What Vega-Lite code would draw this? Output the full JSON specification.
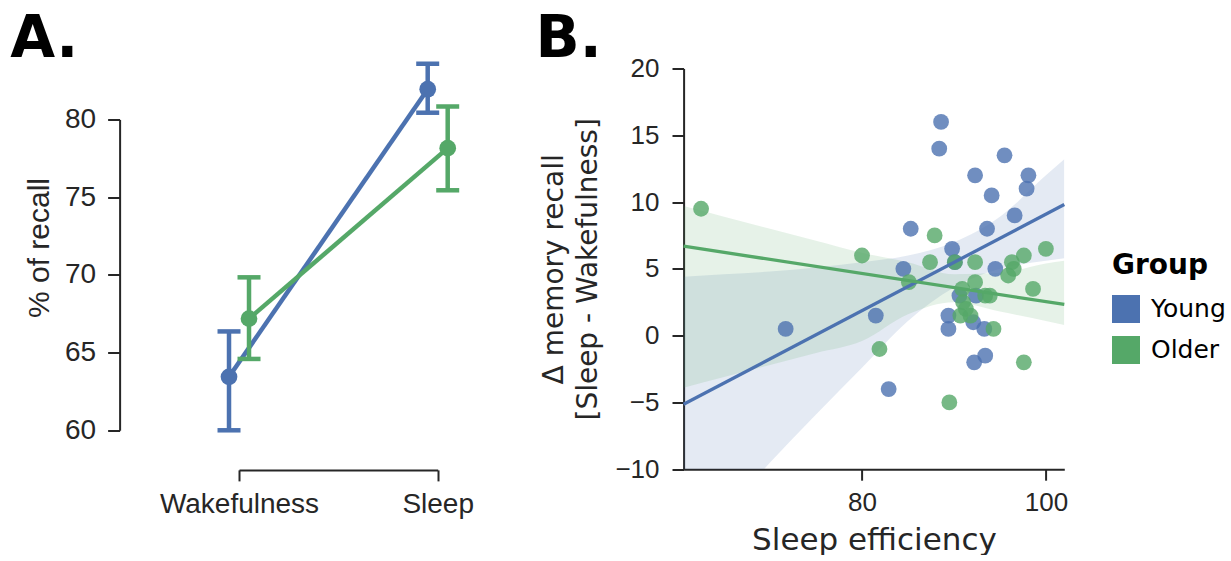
{
  "$schema": "https://vega.github.io/schema/vega-lite/v6.json",
  "padding": {"left": 10, "top": 10.5, "right": 0, "bottom": 0},
  "autosize": {"type": "pad"},
  "background": "white",
  "bounds": "flush",
  "spacing": 245.6,
  "config": {
    "view": {"stroke": null},
    "axis": {"grid": false, "domainColor": "#262626", "tickColor": "#262626", "labelColor": "#262626", "titleColor": "#262626", "domainWidth": 2, "tickWidth": 2, "labelFont": "Liberation Sans", "titleFontWeight": "normal"},
    "legend": {"titleFont": "DejaVu Sans", "titleFontSize": 28, "titleFontWeight": "bold", "titleColor": "black", "labelFont": "DejaVu Sans", "labelFontSize": 25, "labelColor": "black", "symbolType": "square", "symbolSize": 784, "symbolOpacity": 1, "symbolStrokeWidth": 0, "rowPadding": 13, "titlePadding": 14.5, "labelOffset": 11}
  },
  "datasets": {
    "recall": [
      {"condition": "Wakefulness", "group": "Young", "mean": 63.44, "lo": 60.0, "hi": 66.36},
      {"condition": "Sleep", "group": "Young", "mean": 81.94, "lo": 80.43, "hi": 83.58},
      {"condition": "Wakefulness", "group": "Older", "mean": 67.18, "lo": 64.59, "hi": 69.84},
      {"condition": "Sleep", "group": "Older", "mean": 78.15, "lo": 75.44, "hi": 80.83}
    ],
    "scatter": [
      {"group": "Young", "eff": 88.6, "delta": 16.0},
      {"group": "Young", "eff": 88.4, "delta": 14.0},
      {"group": "Young", "eff": 95.5, "delta": 13.5},
      {"group": "Young", "eff": 92.3, "delta": 12.0},
      {"group": "Young", "eff": 98.1, "delta": 12.0},
      {"group": "Young", "eff": 97.9, "delta": 11.0},
      {"group": "Young", "eff": 94.1, "delta": 10.5},
      {"group": "Young", "eff": 96.6, "delta": 9.0},
      {"group": "Young", "eff": 85.3, "delta": 8.0},
      {"group": "Young", "eff": 93.6, "delta": 8.0},
      {"group": "Young", "eff": 89.8, "delta": 6.5},
      {"group": "Young", "eff": 90.1, "delta": 5.5},
      {"group": "Young", "eff": 84.5, "delta": 5.0},
      {"group": "Young", "eff": 94.5, "delta": 5.0},
      {"group": "Young", "eff": 90.6, "delta": 3.0},
      {"group": "Young", "eff": 92.4, "delta": 3.0},
      {"group": "Young", "eff": 81.5, "delta": 1.5},
      {"group": "Young", "eff": 89.4, "delta": 1.5},
      {"group": "Young", "eff": 89.4, "delta": 0.5},
      {"group": "Young", "eff": 92.1, "delta": 1.0},
      {"group": "Young", "eff": 93.3, "delta": 0.5},
      {"group": "Young", "eff": 92.2, "delta": -2.0},
      {"group": "Young", "eff": 93.4, "delta": -1.5},
      {"group": "Young", "eff": 82.9, "delta": -4.0},
      {"group": "Young", "eff": 71.7, "delta": 0.5},
      {"group": "Older", "eff": 62.5, "delta": 9.5},
      {"group": "Older", "eff": 80.0, "delta": 6.0},
      {"group": "Older", "eff": 81.9, "delta": -1.0},
      {"group": "Older", "eff": 85.1, "delta": 4.0},
      {"group": "Older", "eff": 87.4, "delta": 5.5},
      {"group": "Older", "eff": 87.9, "delta": 7.5},
      {"group": "Older", "eff": 89.5, "delta": -5.0},
      {"group": "Older", "eff": 90.1, "delta": 5.5},
      {"group": "Older", "eff": 90.7, "delta": 1.5},
      {"group": "Older", "eff": 90.9, "delta": 3.5},
      {"group": "Older", "eff": 91.0, "delta": 2.5},
      {"group": "Older", "eff": 91.3, "delta": 2.0},
      {"group": "Older", "eff": 91.8, "delta": 1.5},
      {"group": "Older", "eff": 92.3, "delta": 5.5},
      {"group": "Older", "eff": 92.3, "delta": 4.0},
      {"group": "Older", "eff": 93.4, "delta": 3.0},
      {"group": "Older", "eff": 93.9, "delta": 3.0},
      {"group": "Older", "eff": 94.3, "delta": 0.5},
      {"group": "Older", "eff": 95.9, "delta": 4.5},
      {"group": "Older", "eff": 96.3, "delta": 5.5},
      {"group": "Older", "eff": 96.5, "delta": 5.0},
      {"group": "Older", "eff": 97.6, "delta": 6.0},
      {"group": "Older", "eff": 97.6, "delta": -2.0},
      {"group": "Older", "eff": 98.6, "delta": 3.5},
      {"group": "Older", "eff": 100.0, "delta": 6.5}
    ],
    "bands": [
      {"group": "Young", "eff": 60.6, "lo": -14.5, "hi": 4.4},
      {"group": "Young", "eff": 65, "lo": -13.2, "hi": 4.6},
      {"group": "Young", "eff": 70, "lo": -9.5, "hi": 4.8},
      {"group": "Young", "eff": 75, "lo": -5.9, "hi": 5.1},
      {"group": "Young", "eff": 80, "lo": -2.4, "hi": 5.5},
      {"group": "Young", "eff": 85, "lo": 1.1, "hi": 6.0},
      {"group": "Young", "eff": 90, "lo": 3.6, "hi": 7.0},
      {"group": "Young", "eff": 95, "lo": 5.0, "hi": 8.9},
      {"group": "Young", "eff": 100, "lo": 5.6, "hi": 12.0},
      {"group": "Young", "eff": 102, "lo": 5.8, "hi": 13.2},
      {"group": "Older", "eff": 60.6, "lo": -3.9, "hi": 9.7},
      {"group": "Older", "eff": 65, "lo": -3.1, "hi": 8.9},
      {"group": "Older", "eff": 70, "lo": -2.2, "hi": 8.0},
      {"group": "Older", "eff": 75, "lo": -1.3, "hi": 7.1},
      {"group": "Older", "eff": 80, "lo": -0.4, "hi": 6.2},
      {"group": "Older", "eff": 85, "lo": 1.6, "hi": 5.5},
      {"group": "Older", "eff": 90, "lo": 2.5, "hi": 4.6},
      {"group": "Older", "eff": 95, "lo": 1.8, "hi": 4.7},
      {"group": "Older", "eff": 100, "lo": 1.1, "hi": 5.4},
      {"group": "Older", "eff": 102, "lo": 0.8, "hi": 5.6}
    ]
  },
  "hconcat": [
    {
      "width": 198.7,
      "height": 400.7,
      "title": {"text": "A.", "anchor": "start", "frame": "group", "dx": -228.7, "dy": 53.2, "offset": 0, "baseline": "alphabetic", "font": "DejaVu Sans", "fontSize": 58, "fontWeight": "bold", "color": "black"},
      "data": {"name": "recall"},
      "encoding": {
        "x": {"field": "condition", "type": "nominal", "sort": ["Wakefulness", "Sleep"], "scale": {"type": "point", "padding": 0},
          "axis": {"title": null, "labelAngle": 0, "offset": 0.7, "tickSize": 11, "labelFontSize": 28, "labelPadding": 10}},
        "xOffset": {"field": "group", "type": "nominal", "sort": ["Young", "Older"], "scale": {"type": "point", "padding": 0, "range": [-10, 10]}},
        "detail": {"field": "group", "type": "nominal"}
      },
      "layer": [
        {"mark": {"type": "line", "strokeWidth": 4.5, "clip": false},
          "encoding": {
            "y": {"field": "mean", "type": "quantitative", "scale": {"domain": [60, 80], "range": [361.8, 50.9], "nice": false, "zero": false},
              "axis": {"values": [60, 65, 70, 75, 80], "offset": 119.4, "tickSize": 12, "labelFontSize": 28, "labelPadding": 12, "title": "% of recall", "titleFont": "Liberation Sans", "titleFontSize": 30, "titlePadding": 10, "titleY": 179}},
            "stroke": {"condition": {"test": "datum.group === 'Young'", "value": "#4C72B0"}, "value": "#55A868"}}},
        {"mark": {"type": "rule", "strokeWidth": 4.5},
          "encoding": {"y": {"field": "lo", "type": "quantitative"}, "y2": {"field": "hi"},
            "stroke": {"condition": {"test": "datum.group === 'Young'", "value": "#4C72B0"}, "value": "#55A868"}}},
        {"mark": {"type": "tick", "thickness": 4.5, "size": 23, "opacity": 1},
          "encoding": {"y": {"field": "lo", "type": "quantitative"},
            "fill": {"condition": {"test": "datum.group === 'Young'", "value": "#4C72B0"}, "value": "#55A868"}}},
        {"mark": {"type": "tick", "thickness": 4.5, "size": 23, "opacity": 1},
          "encoding": {"y": {"field": "hi", "type": "quantitative"},
            "fill": {"condition": {"test": "datum.group === 'Young'", "value": "#4C72B0"}, "value": "#55A868"}}},
        {"mark": {"type": "circle", "size": 280, "opacity": 1},
          "encoding": {"y": {"field": "mean", "type": "quantitative"},
            "fill": {"condition": {"test": "datum.group === 'Young'", "value": "#4C72B0"}, "value": "#55A868"}}}
      ]
    },
    {
      "width": 380.7,
      "height": 400.7,
      "title": {"text": "B.", "anchor": "start", "frame": "group", "dx": -148, "dy": 59.2, "offset": 0, "baseline": "alphabetic", "font": "DejaVu Sans", "fontSize": 58, "fontWeight": "bold", "color": "black"},
      "layer": [
        {"data": {"name": "bands"},
          "mark": {"type": "area", "opacity": 0.15, "clip": true, "interpolate": "monotone"},
          "encoding": {
            "x": {"field": "eff", "type": "quantitative", "scale": {"domain": [60.6, 102], "nice": false, "zero": false},
              "axis": {"values": [80, 100], "tickSize": 11, "labelFontSize": 26, "labelPadding": 9, "title": "Sleep efficiency", "titleFont": "DejaVu Sans", "titleFontSize": 31, "titlePadding": 10}},
            "y": {"field": "lo", "type": "quantitative", "scale": {"domain": [-10, 20], "nice": false, "zero": false},
              "axis": {"values": [-10, -5, 0, 5, 10, 15, 20], "tickSize": 11.6, "labelFontSize": 26, "labelPadding": 13, "title": ["Δ memory recall", "[Sleep - Wakefulness]"], "titleFont": "DejaVu Sans", "titleFontSize": 28, "titleLineHeight": 34, "titlePadding": 12.5}},
            "y2": {"field": "hi"},
            "detail": {"field": "group", "type": "nominal"},
            "fill": {"condition": {"test": "datum.group === 'Young'", "value": "#4C72B0"}, "value": "#55A868"}
          }},
        {"data": {"name": "scatter"},
          "mark": {"type": "circle", "size": 250, "opacity": 0.8},
          "encoding": {
            "x": {"field": "eff", "type": "quantitative"},
            "y": {"field": "delta", "type": "quantitative"},
            "color": {"field": "group", "type": "nominal", "sort": ["Young", "Older"], "scale": {"range": ["#4C72B0", "#55A868"]},
              "legend": {"title": "Group", "orient": "none", "legendX": 873, "legendY": 184}}
          }},
        {"data": {"name": "scatter"},
          "transform": [{"regression": "delta", "on": "eff", "groupby": ["group"], "extent": [60.6, 102]}],
          "mark": {"type": "line", "strokeWidth": 3.3},
          "encoding": {
            "x": {"field": "eff", "type": "quantitative"},
            "y": {"field": "delta", "type": "quantitative"},
            "detail": {"field": "group", "type": "nominal"},
            "stroke": {"condition": {"test": "datum.group === 'Young'", "value": "#4C72B0"}, "value": "#55A868"}
          }},
        {"mark": {"type": "rule", "color": "black", "strokeWidth": 3.5, "strokeDash": [14, 7.5]},
          "encoding": {"y": {"datum": 0}}}
      ]
    }
  ]
}
